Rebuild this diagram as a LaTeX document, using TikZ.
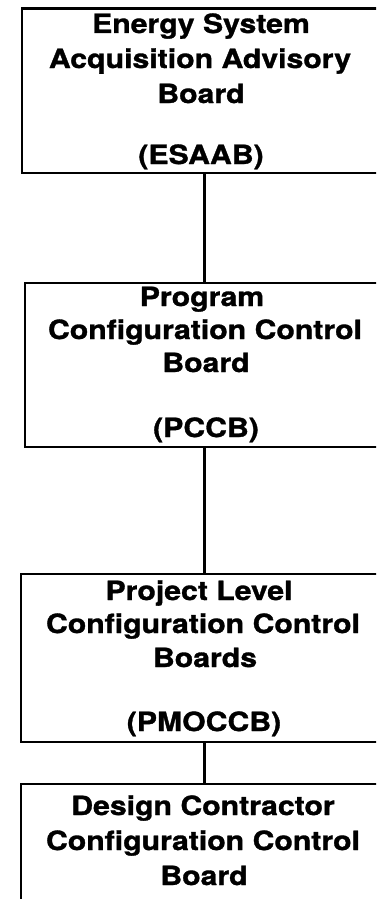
\documentclass[tikz,border=0pt]{standalone}
\usepackage{fontspec}
\setmainfont[FakeStretch=1.14,FakeBold=1.2]{TeX Gyre Heros}
\begin{document}
\begin{tikzpicture}[x=1pt,y=-1pt,
  box/.style={draw, line width=2.2pt, rectangle, anchor=north west, inner sep=0pt, minimum width=400pt},
  lbl/.style={anchor=base, inner sep=0pt, font=\fontsize{26.5}{30}\selectfont\bfseries},
  conn/.style={line width=2.2pt}]
\useasboundingbox (0,0) rectangle (376,899);
\clip (0,0) rectangle (376,899);
\node[box, minimum height=164.5pt] (b1) at (21,7.5) {};
\node[box, minimum height=164pt] (b2) at (24,282) {};
\node[box, minimum height=168pt] (b3) at (20,573) {};
\node[box, minimum height=200pt] (b4) at (20,783) {};
\coordinate (spine) at (204.5,0);
\draw[conn] (b1.south -| spine) -- (b2.north -| spine);
\draw[conn] (b2.south -| spine) -- (b3.north -| spine);
\draw[conn] (b3.south -| spine) -- (b4.north -| spine);
% box 1
\node[lbl] (t1a) at (201,33) {Energy System};
\node[lbl] (t1b) at (200,68) {Acquisition Advisory};
\node[lbl] (t1c) at (201,103) {Board};
\node[lbl] (t1d) at (201,164) {(ESAAB)};
% box 2
\node[lbl] (t2a) at (202,306) {Program};
\node[lbl] (t2b) at (205,339) {Configuration Control};
\node[lbl] (t2c) at (206,372) {Board};
\node[lbl] (t2d) at (206,437) {(PCCB)};
% box 3
\node[lbl] (t3a) at (199,600) {Project Level};
\node[lbl] (t3b) at (203,633) {Configuration Control};
\node[lbl] (t3c) at (205,667) {Boards};
\node[lbl] (t3d) at (204,731) {(PMOCCB)};
% box 4
\node[lbl] (t4a) at (203,815) {Design Contractor};
\node[lbl] (t4b) at (203,850) {Configuration Control};
\node[lbl] (t4c) at (204,885) {Board};
\end{tikzpicture}
\end{document}
